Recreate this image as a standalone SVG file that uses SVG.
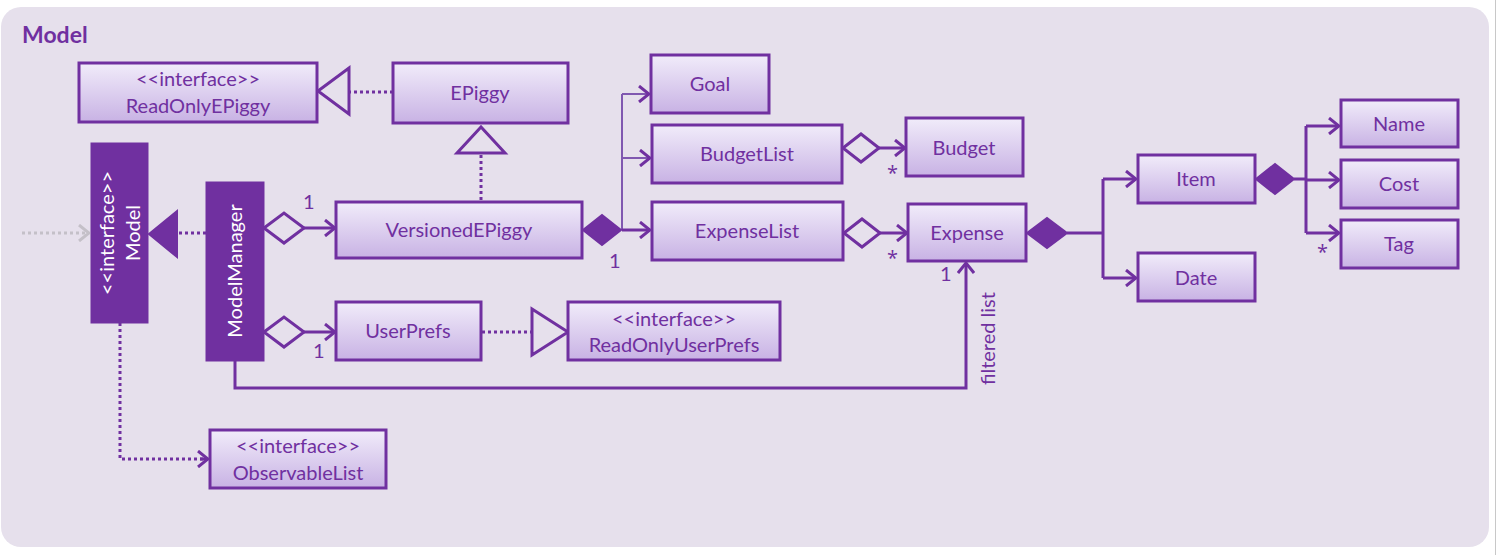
<svg xmlns="http://www.w3.org/2000/svg" width="1497" height="555" viewBox="0 0 1497 555">
<defs>
<linearGradient id="g" x1="0" y1="0" x2="0" y2="1">
<stop offset="0" stop-color="#F1ECFA"/>
<stop offset="1" stop-color="#C8B2E4"/>
</linearGradient>
<marker id="arr" viewBox="0 0 12 18" refX="11" refY="9" markerWidth="12" markerHeight="18" markerUnits="userSpaceOnUse" orient="auto">
<polyline points="1,1 11,9 1,17" fill="none" stroke="#7030A0" stroke-width="3"/>
</marker>
<marker id="arrg" viewBox="0 0 12 18" refX="11" refY="9" markerWidth="12" markerHeight="18" markerUnits="userSpaceOnUse" orient="auto">
<polyline points="1,1 11,9 1,17" fill="none" stroke="#C4C0C8" stroke-width="3"/>
</marker>
</defs>
<style>
.box{fill:url(#g);stroke:#7030A0;stroke-width:3}
.dark{fill:#7030A0;stroke:#7030A0;stroke-width:1}
.t{font-family:Lato,"Open Sans",sans-serif;font-size:20px;fill:#7030A0;text-anchor:middle}
.s{font-family:Lato,"Open Sans",sans-serif;font-size:20px;fill:#7030A0;text-anchor:middle}
.w{font-family:Lato,"Open Sans",sans-serif;font-size:20px;fill:#FFFFFF;text-anchor:middle}
.l{font-family:Lato,"Open Sans",sans-serif;font-size:20px;fill:#7030A0}
.a{font-family:"Open Sans",sans-serif;font-size:20px;fill:#7030A0}
.line{fill:none;stroke:#7030A0;stroke-width:3}
.thin{fill:none;stroke:#8058B0;stroke-width:2}
.dot{fill:none;stroke:#7030A0;stroke-width:3;stroke-dasharray:3 3}
.hol{fill:#E6E0EC;stroke:#7030A0;stroke-width:3}
.fil{fill:#7030A0;stroke:#7030A0;stroke-width:2}
</style>
<rect x="1" y="7" width="1488" height="540" rx="20" ry="20" fill="#E6E0EC"/>
<line x1="1495.5" y1="0" x2="1495.5" y2="555" stroke="#C8C8C8" stroke-width="1"/>
<text x="22" y="43" font-family="Lato,'Open Sans',sans-serif" font-size="23" font-weight="bold" fill="#7030A0">Model</text>

<g id="connectors">
<line class="dot" x1="393" y1="92" x2="349" y2="92"/>
<polygon class="hol" points="318,91 349,68 349,114"/>
<line class="dot" x1="481" y1="200" x2="481" y2="153"/>
<polygon class="hol" points="481,127 457,153 505,153"/>
<line class="dot" x1="206" y1="233" x2="177" y2="233"/>
<polygon class="fil" points="149,234 177,211 177,257"/>
<line x1="22" y1="233" x2="89" y2="233" stroke="#C4C0C8" stroke-width="3" stroke-dasharray="3 3" marker-end="url(#arrg)"/>
<polygon class="hol" points="264,228 284,213 304,228 284,243"/>
<line class="line" x1="304" y1="228" x2="335" y2="228" marker-end="url(#arr)"/>
<polygon class="hol" points="264,332 284,317 304,332 284,347"/>
<line class="line" x1="304" y1="332" x2="335" y2="332" marker-end="url(#arr)"/>
<line class="dot" x1="482" y1="332" x2="532" y2="332"/>
<polygon class="hol" points="568,332 532,309 532,355"/>
<polyline class="thin" points="622,230 622,94"/>
<line class="thin" x1="622" y1="94" x2="649" y2="94" marker-end="url(#arr)"/>
<line class="thin" x1="622" y1="158" x2="650" y2="158" marker-end="url(#arr)"/>
<line class="line" x1="622" y1="230" x2="650" y2="230" marker-end="url(#arr)"/>
<polygon class="fil" points="583,230 602,215 621,230 602,245"/>
<polygon class="hol" points="843,148 861,134 879,148 861,162"/>
<line class="line" x1="879" y1="148" x2="905" y2="148" marker-end="url(#arr)"/>
<polygon class="hol" points="844,233 862,219 880,233 862,247"/>
<line class="line" x1="880" y1="233" x2="907" y2="233" marker-end="url(#arr)"/>
<polygon class="fil" points="1027,233 1047,218 1067,233 1047,248"/>
<polyline class="line" points="1067,233 1103,233"/>
<polyline class="line" points="1103,179 1103,278"/>
<line class="line" x1="1103" y1="179" x2="1136" y2="179" marker-end="url(#arr)"/>
<line class="line" x1="1103" y1="278" x2="1136" y2="278" marker-end="url(#arr)"/>
<polygon class="fil" points="1256,179 1275,164 1294,179 1275,194"/>
<line class="line" x1="1294" y1="179" x2="1306" y2="179"/>
<polyline class="line" points="1306,126 1306,233"/>
<line class="line" x1="1306" y1="126" x2="1339" y2="126" marker-end="url(#arr)"/>
<line class="line" x1="1306" y1="180" x2="1339" y2="180" marker-end="url(#arr)"/>
<line class="line" x1="1306" y1="233" x2="1339" y2="233" marker-end="url(#arr)"/>
<polyline class="line" points="235,361 235,388 966,388 966,263" marker-end="url(#arr)"/>
<polyline class="dot" points="120,323 120,459 207,459"/>
<line class="line" x1="200" y1="459" x2="208" y2="459" marker-end="url(#arr)"/>
<text class="l" x="303" y="209">1</text>
<text class="l" x="313" y="358">1</text>
<text class="l" x="609" y="268">1</text>
<text class="a" x="887" y="180">*</text>
<text class="a" x="887" y="265">*</text>
<text class="l" x="940" y="281">1</text>
<text class="a" x="1317" y="259">*</text>
<text class="l" transform="translate(995,385) rotate(-90)">filtered list</text>
</g>

<g id="ReadOnlyEPiggy"><rect class="box" x="79" y="63" width="238" height="59"/><text class="s" x="198" y="86">&lt;&lt;interface&gt;&gt;</text><text class="t" x="198" y="113">ReadOnlyEPiggy</text></g>
<g id="EPiggy"><rect class="box" x="393" y="63" width="175" height="60"/><text class="t" x="480" y="100">EPiggy</text></g>
<g id="Goal"><rect class="box" x="651" y="55" width="118" height="58"/><text class="t" x="710" y="91">Goal</text></g>
<g id="BudgetList"><rect class="box" x="652" y="125" width="190" height="58"/><text class="t" x="747" y="161">BudgetList</text></g>
<g id="Budget"><rect class="box" x="906" y="118" width="117" height="58"/><text class="t" x="964" y="155">Budget</text></g>
<g id="VersionedEPiggy"><rect class="box" x="336" y="202" width="246" height="56"/><text class="t" x="459" y="237">VersionedEPiggy</text></g>
<g id="ExpenseList"><rect class="box" x="652" y="202" width="191" height="58"/><text class="t" x="747" y="238">ExpenseList</text></g>
<g id="Expense"><rect class="box" x="908" y="204" width="118" height="57"/><text class="t" x="967" y="240">Expense</text></g>
<g id="Item"><rect class="box" x="1138" y="155" width="117" height="48"/><text class="t" x="1196" y="186">Item</text></g>
<g id="Date"><rect class="box" x="1138" y="253" width="117" height="48"/><text class="t" x="1196" y="285">Date</text></g>
<g id="Name"><rect class="box" x="1341" y="100" width="117" height="47"/><text class="t" x="1399" y="131">Name</text></g>
<g id="Cost"><rect class="box" x="1341" y="160" width="117" height="48"/><text class="t" x="1399" y="191">Cost</text></g>
<g id="Tag"><rect class="box" x="1341" y="220" width="117" height="48"/><text class="t" x="1399" y="251">Tag</text></g>
<g id="Model"><rect class="dark" x="91" y="143" width="57" height="180"/><text class="w" transform="translate(114,233) rotate(-90)">&lt;&lt;interface&gt;&gt;</text><text class="w" transform="translate(140,233) rotate(-90)">Model</text></g>
<g id="ModelManager"><rect class="dark" x="206" y="182" width="58" height="179"/><text class="w" transform="translate(242,271) rotate(-90)">ModelManager</text></g>
<g id="UserPrefs"><rect class="box" x="336" y="302" width="145" height="58"/><text class="t" x="408" y="338">UserPrefs</text></g>
<g id="ReadOnlyUserPrefs"><rect class="box" x="568" y="302" width="212" height="58"/><text class="s" x="674" y="326">&lt;&lt;interface&gt;&gt;</text><text class="t" x="674" y="352">ReadOnlyUserPrefs</text></g>
<g id="ObservableList"><rect class="box" x="210" y="430" width="176" height="58"/><text class="s" x="298" y="453">&lt;&lt;interface&gt;&gt;</text><text class="t" x="298" y="480">ObservableList</text></g>
</svg>
